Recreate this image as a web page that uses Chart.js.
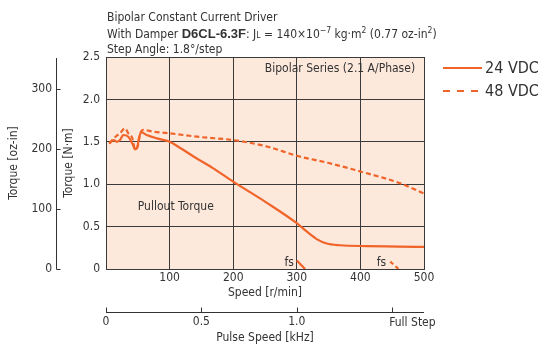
<!DOCTYPE html>
<html>
<head>
<meta charset="utf-8">
<script src="https://cdn.jsdelivr.net/npm/chart.js@4.4.1/dist/chart.umd.min.js"></script>
<style>
html, body { margin: 0; padding: 0; background: #fff; }
</style>
</head>
<body>
<canvas id="grafico" width="543" height="345"></canvas>
<script>
// speed [r/min] vs pullout torque [N·m]
let speed24 = [5, 12, 17, 22, 27, 35, 42, 46, 49, 52, 56, 64, 80, 100, 116, 137, 168, 200, 253, 300, 316, 332, 347, 368, 410, 460, 500]
let torque24 = [1.48, 1.52, 1.50, 1.52, 1.58, 1.56, 1.47, 1.41, 1.43, 1.55, 1.61, 1.58, 1.54, 1.50, 1.43, 1.33, 1.19, 1.03, 0.78, 0.54, 0.44, 0.35, 0.30, 0.28, 0.27, 0.265, 0.26]
let speed48 = [5, 10, 15, 22, 30, 35, 41, 46, 50, 54, 59, 74, 100, 150, 200, 253, 300, 350, 400, 463, 500]
let torque48 = [1.48, 1.52, 1.56, 1.60, 1.66, 1.60, 1.55, 1.41, 1.45, 1.60, 1.64, 1.62, 1.60, 1.555, 1.52, 1.445, 1.335, 1.25, 1.15, 1.01, 0.89]
// starting frequency (fs) segments
let fsSpeed24 = [300, 313]
let fsTorque24 = [0.10, 0]
let fsSpeed48 = [447, 460]
let fsTorque48 = [0.087, 0]

let seriesNames = ['24 VDC', '48 VDC']
let speedTicks = [0, 100, 200, 300, 400, 500]
let torqueTicks = [0, 0.5, 1.0, 1.5, 2.0, 2.5]
let torqueTickLabels = ['0', '0.5', '1.0', '1.5', '2.0', '2.5']
let ozTicks = [0, 100, 200, 300]
let pulseTicks = [0, 0.5, 1.0, 1.5]
let pulseTickLabels = ['0', '0.5', '1.0', 'Full Step']

const FONT = "'DejaVu Sans Condensed', 'DejaVu Sans', sans-serif"
const FS = 12
const orange = '#f0642a'
const txt = '#333333'
const gridCol = '#3a3a3a'
const plotBg = '#fde8dc'
const NM_TO_OZIN = 141.6

function pts(xs, ys) {
    return xs.map((x, i) => ({ x: x, y: ys[i] }))
}

function drawRuns(ctx, x, y, runs) {
    runs.forEach(r => {
        ctx.font = r.font
        ctx.fillText(r.t, x, y + (r.dy || 0))
        x += ctx.measureText(r.t).width
    })
}

const extras = {
    id: 'extras',
    beforeDraw(chart) {
        const { ctx, chartArea: a } = chart
        ctx.save()
        ctx.fillStyle = plotBg
        ctx.fillRect(a.left, a.top, a.right - a.left, a.bottom - a.top)
        ctx.restore()
    },
    afterDraw(chart) {
        const ctx = chart.ctx
        const sx = chart.scales.x, sy = chart.scales.y
        const oz = chart.scales.yOz, kh = chart.scales.x2
        ctx.save()
        ctx.strokeStyle = txt
        ctx.lineWidth = 1

        // oz-in axis line with inward ticks
        let ax = Math.round(oz.right) - 0.5
        ctx.beginPath()
        ctx.moveTo(ax, oz.top + 1)
        ctx.lineTo(ax, Math.round(oz.bottom) + 0.5)
        ozTicks.forEach(v => {
            let py = Math.round(oz.getPixelForValue(v)) + 0.5
            ctx.moveTo(ax, py)
            ctx.lineTo(ax + 4, py)
        })
        // pulse speed axis line with upward ticks
        let ay = Math.round(kh.top) + 0.5
        ctx.moveTo(kh.left, ay)
        ctx.lineTo(kh.right, ay)
        pulseTicks.forEach(v => {
            let px = Math.round(kh.getPixelForValue(v)) + 0.5
            ctx.moveTo(px, ay)
            ctx.lineTo(px, ay - 5)
        })
        ctx.stroke()

        ctx.fillStyle = txt
        ctx.textBaseline = 'middle'
        ctx.font = FS + 'px ' + FONT
        // last pulse label sits to the right of its tick
        ctx.textAlign = 'left'
        ctx.fillText(pulseTickLabels[3], kh.getPixelForValue(1.5) - 3, ay + 10)

        // labels inside plot
        ctx.textAlign = 'right'
        ctx.fillText('Bipolar Series (2.1 A/Phase)', sx.getPixelForValue(486), sy.getPixelForValue(2.36))
        ctx.textAlign = 'left'
        ctx.fillText('Pullout Torque', sx.getPixelForValue(50), sy.getPixelForValue(0.73))
        ctx.textAlign = 'center'
        ctx.fillText('fs', sx.getPixelForValue(288), sy.getPixelForValue(0.07))
        ctx.fillText('fs', sx.getPixelForValue(433), sy.getPixelForValue(0.07))

        // header
        ctx.textAlign = 'left'
        ctx.textBaseline = 'alphabetic'
        const f = FS + 'px ' + FONT
        const fsm = '8.5px ' + FONT
        drawRuns(ctx, 107, 21, [{ t: 'Bipolar Constant Current Driver', font: f }])
        drawRuns(ctx, 107, 38, [
            { t: 'With Damper ', font: f },
            { t: 'D6CL-6.3F', font: 'bold 13px "Liberation Sans", sans-serif' },
            { t: ': J', font: f },
            { t: 'L', font: fsm },
            { t: ' = 140×10', font: f },
            { t: '−7', font: fsm, dy: -5 },
            { t: ' kg·m', font: f },
            { t: '2', font: fsm, dy: -5 },
            { t: ' (0.77 oz-in', font: f },
            { t: '2', font: fsm, dy: -5 },
            { t: ')', font: f }
        ])
        drawRuns(ctx, 107, 53, [{ t: 'Step Angle: 1.8°/step', font: f }])

        // legend
        ctx.strokeStyle = orange
        ctx.lineWidth = 2.2
        ctx.beginPath()
        ctx.moveTo(443, 68)
        ctx.lineTo(482, 68)
        ctx.stroke()
        ctx.setLineDash([7, 7])
        ctx.beginPath()
        ctx.moveTo(443, 91)
        ctx.lineTo(482, 91)
        ctx.stroke()
        ctx.setLineDash([])
        ctx.fillStyle = txt
        ctx.font = '16px ' + FONT
        ctx.textBaseline = 'middle'
        ctx.fillText(seriesNames[0], 485, 69)
        ctx.fillText(seriesNames[1], 485, 92)
        ctx.restore()
    }
}

let ctx = document.getElementById('grafico').getContext('2d')

let grafico = new Chart(ctx, {
    type: 'line',
    data: {
        datasets: [
            { label: seriesNames[0], data: pts(speed24, torque24), borderColor: orange, borderWidth: 2.2 },
            { label: seriesNames[1], data: pts(speed48, torque48), borderColor: orange, borderWidth: 2.2, borderDash: [5, 3] },
            { label: 'fs 24', data: pts(fsSpeed24, fsTorque24), borderColor: orange, borderWidth: 2.2 },
            { label: 'fs 48', data: pts(fsSpeed48, fsTorque48), borderColor: orange, borderWidth: 2.2, borderDash: [4, 3] }
        ]
    },
    plugins: [extras],
    options: {
        responsive: false,
        animation: false,
        layout: { padding: { top: 57, right: 119, bottom: 0, left: 0 } },
        elements: {
            point: { radius: 0 },
            line: { cubicInterpolationMode: 'monotone', fill: false }
        },
        plugins: {
            legend: { display: false },
            tooltip: { enabled: false }
        },
        scales: {
            x: {
                type: 'linear',
                position: 'bottom',
                weight: 0,
                min: 0,
                max: 500,
                afterBuildTicks: s => { s.ticks = speedTicks.map(v => ({ value: v })) },
                ticks: {
                    maxRotation: 0,
                    padding: 2,
                    color: txt,
                    font: { family: FONT, size: FS },
                    callback: v => v === 0 ? '' : v
                },
                grid: { color: gridCol, drawTicks: false },
                border: { color: gridCol },
                title: { display: true, text: 'Speed [r/min]', color: txt, font: { family: FONT, size: FS }, padding: { top: 0, bottom: 11 } },
                afterFit: s => { s.height = 42.5 }
            },
            x2: {
                type: 'linear',
                position: 'bottom',
                weight: 1,
                min: 0,
                max: 500 / 300,
                afterBuildTicks: s => { s.ticks = pulseTicks.map(v => ({ value: v })) },
                ticks: {
                    maxRotation: 0,
                    padding: 3,
                    color: txt,
                    font: { family: FONT, size: FS },
                    callback: (v, i) => i < 3 ? pulseTickLabels[i] : ''
                },
                grid: { display: false, drawTicks: false },
                border: { display: false },
                title: { display: true, text: 'Pulse Speed [kHz]', color: txt, font: { family: FONT, size: FS }, padding: { top: 0, bottom: 0 } },
                afterFit: s => { s.height = 33.5 }
            },
            y: {
                position: 'left',
                weight: 0,
                min: 0,
                max: 2.5,
                afterBuildTicks: s => { s.ticks = torqueTicks.map(v => ({ value: v })) },
                ticks: {
                    padding: 6,
                    color: txt,
                    font: { family: FONT, size: FS },
                    callback: (v, i) => torqueTickLabels[i]
                },
                grid: { color: gridCol, drawTicks: false },
                border: { color: gridCol },
                title: { display: true, text: 'Torque [N·m]', color: txt, font: { family: FONT, size: FS }, padding: { top: 5, bottom: 0 } },
                afterFit: s => { s.width = 49 }
            },
            yOz: {
                position: 'left',
                weight: 1,
                min: 0,
                max: 2.5 * NM_TO_OZIN,
                afterBuildTicks: s => { s.ticks = ozTicks.map(v => ({ value: v })) },
                ticks: {
                    padding: 5,
                    color: txt,
                    font: { family: FONT, size: FS }
                },
                grid: { display: false, drawTicks: false },
                border: { display: false },
                title: { display: true, text: 'Torque [oz-in]', color: txt, font: { family: FONT, size: FS }, padding: { top: 7, bottom: 0 } },
                afterFit: s => { s.width = 57 }
            }
        }
    }
})
</script>
</body>
</html>
